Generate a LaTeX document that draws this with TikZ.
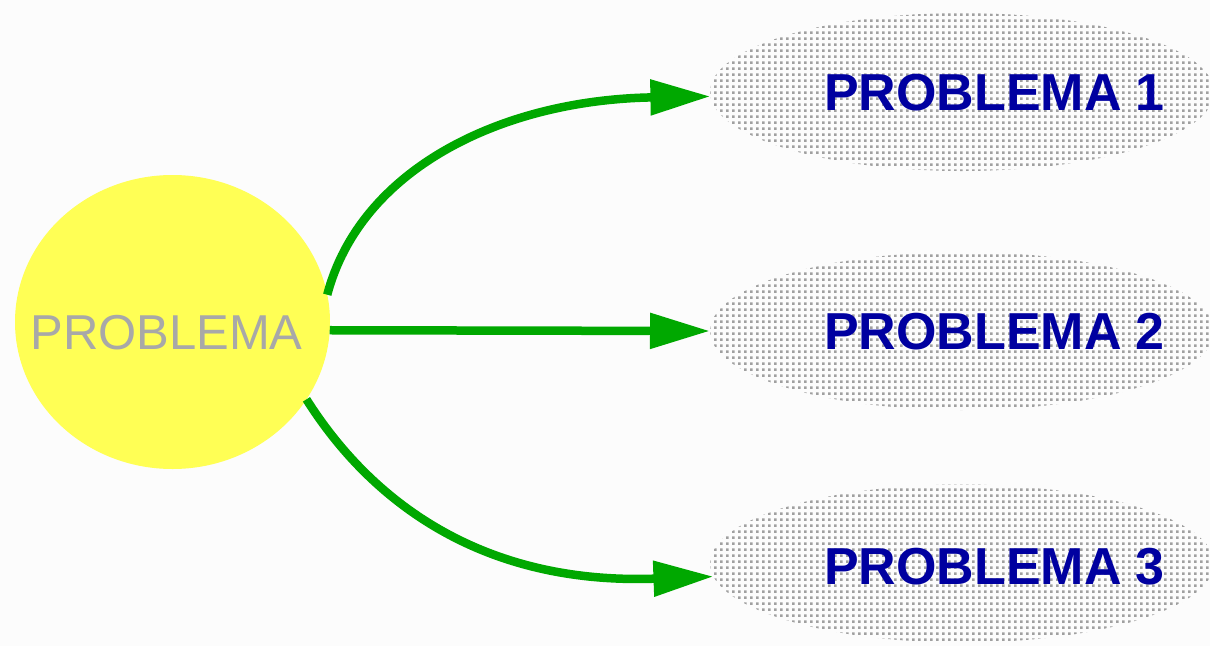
\documentclass[tikz,border=0pt]{standalone}
\usepackage{fontspec}
\setmainfont{Liberation Sans}
\usetikzlibrary{shapes.geometric,arrows.meta,patterns.meta}
\definecolor{bgc}{RGB}{252,252,252}
\definecolor{sunyellow}{RGB}{255,255,85}
\definecolor{txtgray}{RGB}{168,168,168}
\definecolor{dotgray}{RGB}{160,160,160}
\definecolor{deepblue}{RGB}{0,0,160}
\definecolor{arrowgreen}{RGB}{0,168,0}
\tikzdeclarepattern{
  name=bigdots,
  type=uncolored,
  bounding box={(0pt,0pt) and (6pt,6pt)},
  tile size={(6pt,6pt)},
  code={\fill (0pt,0pt) rectangle (3pt,3pt);}
}
\begin{document}
\begin{tikzpicture}[x=1pt,y=-1pt,
  sun/.style={ellipse, fill=sunyellow, minimum width=315pt, minimum height=294pt, inner sep=0pt, outer sep=0pt},
  cloud/.style={ellipse, pattern=bigdots, pattern color=dotgray, minimum width=504pt, minimum height=158pt, inner sep=0pt, outer sep=0pt},
  maintext/.style={text=txtgray, font=\fontsize{49}{55}\selectfont, inner sep=0pt},
  subtext/.style={text=deepblue, font=\fontsize{52}{58}\selectfont\bfseries, inner sep=0pt},
  conn/.style={draw=arrowgreen, line width=8.5pt, -{Triangle[length=60pt,width=34pt]}}
]
\useasboundingbox[fill=bgc] (0,0) rectangle (1210,646);

\node[sun] (p) at (172.5,322) {};
\node[maintext] (pt) at (166.5,333) {PROBLEMA};

\node[cloud] (e1) at (962,92) {};
\node[cloud] (e2) at (962,331) {};
\node[cloud] (e3) at (962,563.5) {};

\node[subtext] (t1) at (994.5,92.5) {PROBLEMA 1};
\node[subtext] (t2) at (994.5,331.5) {PROBLEMA 2};
\node[subtext] (t3) at (994.5,567) {PROBLEMA 3};

\draw[conn] (p.10.6) .. controls (360,170) and (500,100) .. (e1.181);
\draw[conn] (p.-3) -- (e2.west);
\draw[conn] (p.-30.9) .. controls (370,500) and (480,585) .. (e3.183);
\end{tikzpicture}
\end{document}
